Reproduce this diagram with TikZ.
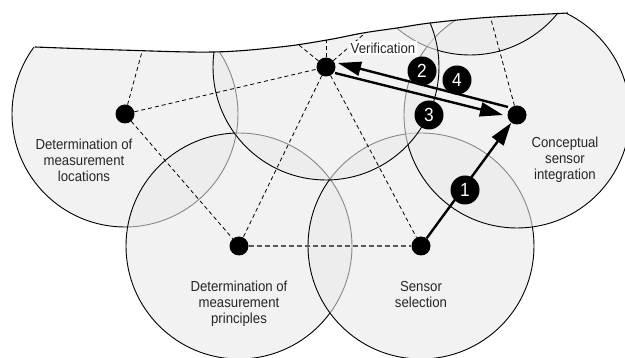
\documentclass[tikz,border=0pt]{standalone}
\usepackage{fontspec}
\newfontfamily\lab{Liberation Sans}[FakeStretch=0.91]
\usetikzlibrary{arrows.meta,calc}
\begin{document}
\begin{tikzpicture}[x=1pt,y=-1pt,
  zone/.style={fill=black!8.7, fill opacity=0.584},
  rim/.style={draw=black, line width=0.9pt},
  dot/.style={circle, fill=black, minimum size=19pt, inner sep=0pt},
  link/.style={black, line width=0.8pt, dash pattern=on 4pt off 3pt},
  baselink/.style={black!65, line width=1.3pt, dash pattern=on 5pt off 3pt},
  flow/.style={line width=2.4pt, -{Triangle[length=23pt,width=14pt]}},
  num/.style={circle, fill=black, text=white, minimum size=29pt, inner sep=0pt, font=\lab\fontsize{19}{19}\selectfont},
  txt/.style={font=\lab\fontsize{14.5}{16}\selectfont, align=center, inner sep=0pt, text=black!85},
  edge/.style={line width=1.1pt}
]
\useasboundingbox (0,0) rectangle (625,358);
\coordinate (pL) at (125,114);
\coordinate (pV) at (326,67);
\coordinate (pC) at (517,115);
\coordinate (pP) at (239,246);
\coordinate (pS) at (421,246);
\coordinate (pT) at (470,-58);
\coordinate (HU) at (326,-180);
\coordinate (HL) at (172,-58);
\begin{scope}
  \clip plot[smooth, tension=0.6] coordinates {(35,47) (120,50) (213,52) (280,47) (327,40) (363,33) (397,28) (430,23) (480,18) (530,15) (568,13)} -- (700,13) -- (700,400) -- (-50,400) -- (-50,47) -- cycle;
  \foreach \c in {pL,pP,pS,pC,pT,pV}{
    \fill[zone] (\c) circle[radius=113pt];
    \draw[rim] (\c) circle[radius=113pt];
  }
  \node[dot] (L) at (pL) {};
  \node[dot] (V) at (pV) {};
  \node[dot] (C) at (pC) {};
  \node[dot] (P) at (pP) {};
  \node[dot] (S) at (pS) {};
  \draw[link] (L) -- (V);
  \draw[link] (L) -- (P);
  \draw[link] (V) -- (P);
  \draw[link] (V) -- (S);
  \draw[link] (L) -- (HL);
  \draw[link] (V) -- (HL);
  \draw[link] (V) -- (HU);
  \draw[link] (V) -- (pT);
  \draw[link] (C) -- (pT);
  \draw[baselink] (P) -- (S);
\end{scope}
\draw[edge] plot[smooth, tension=0.6] coordinates {(35,47) (120,50) (213,52) (280,47) (327,40) (363,33) (397,28) (430,23) (480,18) (530,15) (568,13)};
\coordinate (a2s) at ($(C)+(-9,-8)$);
\coordinate (a2e) at ($(V)+(12,-4)$);
\coordinate (a3s) at ($(V)+(9,6)$);
\coordinate (a3e) at ($(C)+(-14,0)$);
\draw[flow] (S) -- (C);
\draw[flow] (a2s) -- (a2e);
\draw[flow] (a3s) -- (a3e);
\node[num] (n1) at (465,190) {1};
\node[num] (n2) at (422,71) {2};
\node[num] (n3) at (429,115) {3};
\node[num] (n4) at (457,80) {4};
\node[txt] (tL) at (84,160) {Determination of\\measurement\\locations};
\node[txt] (tP) at (239,304) {Determination of\\measurement\\principles};
\node[txt] (tS) at (421,295) {Sensor\\selection};
\node[txt] (tC) at (565,160) {Conceptual\\sensor\\integration};
\node[txt, fill=white, inner sep=1.5pt] (tV) at (383,48) {Verification};
\end{tikzpicture}
\end{document}
